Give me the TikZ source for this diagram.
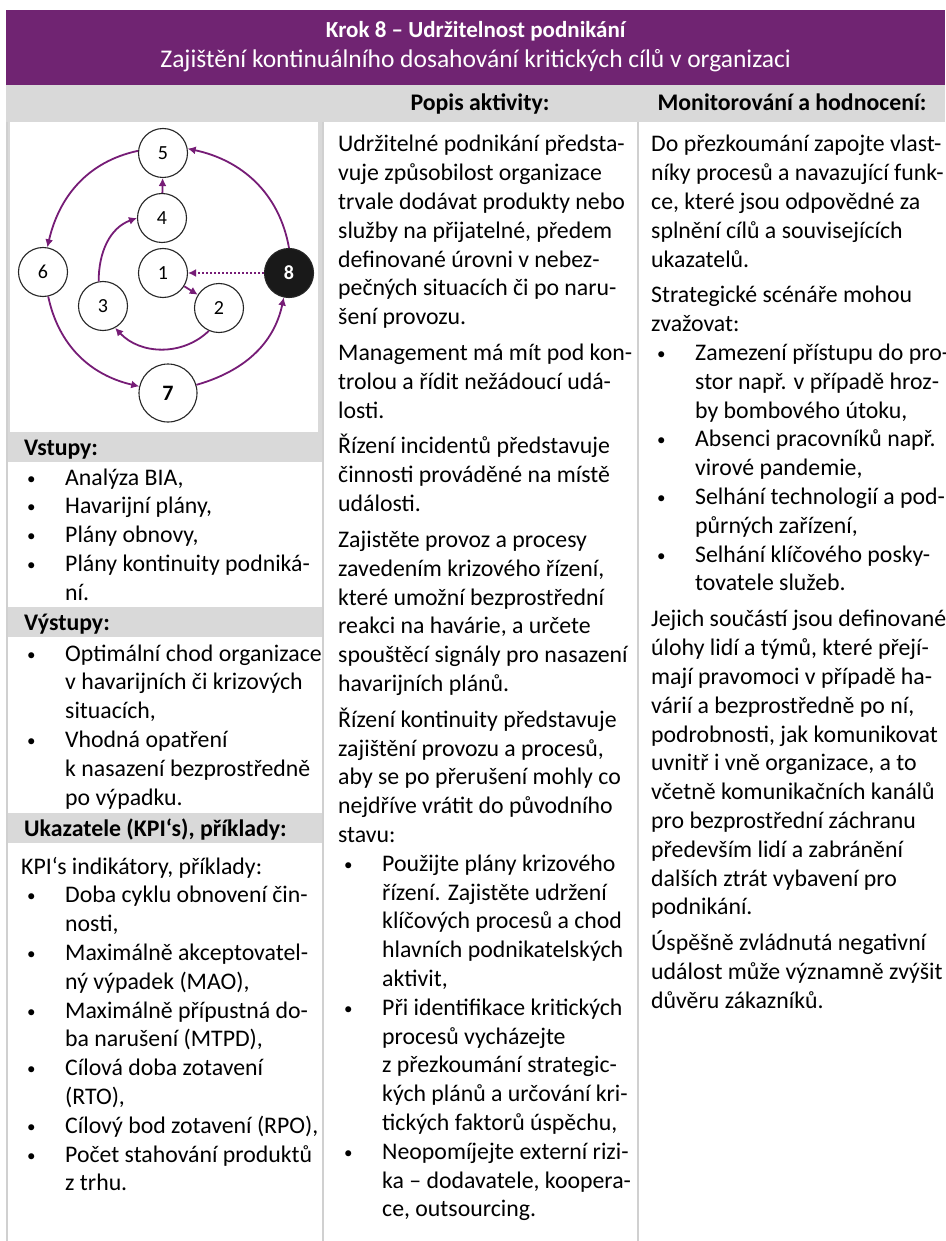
\documentclass[tikz,border=0pt]{standalone}
\usepackage{fontspec}
\setmainfont{Carlito}
\usetikzlibrary{arrows.meta,positioning}

\definecolor{krokpurple}{RGB}{112,36,114}
\definecolor{bandgray}{RGB}{217,217,217}
\definecolor{rulegray}{RGB}{208,208,208}
\definecolor{flowpurple}{RGB}{118,28,118}

\newcommand{\pgap}{7pt}
\newcommand{\bitem}{\hspace*{6pt}\makebox[38pt][l]{\raisebox{1pt}{\fontsize{17}{17}\selectfont\textbullet}}}
\newcommand{\bcont}{\hspace*{44pt}}
\newcommand{\coltext}[1]{\begin{minipage}[t]{420pt}\fontsize{23.8}{28.8}\selectfont\raggedright #1\end{minipage}}

\tikzset{
  band/.style={fill=bandgray, inner sep=0pt, anchor=north west},
  bandlabel/.style={anchor=base west, inner sep=0pt, font=\fontsize{23.8}{28}\selectfont\bfseries},
  textblock/.style={anchor=base west, inner sep=0pt},
  stepcircle/.style={circle, draw=black!85, line width=1.1pt, fill=white, minimum size=49pt, inner sep=0pt, font=\fontsize{20}{20}\selectfont},
  flow/.style={draw=flowpurple, line width=1.8pt, -{Latex[length=8pt,width=8pt]}},
}

\begin{document}
\begin{tikzpicture}[x=1pt, y=1pt]
    \useasboundingbox (0,0) rectangle (945,-1241);
    \clip (0,0) rectangle (945,-1241);

    % Header band
    \node[fill=krokpurple, minimum width=939pt, minimum height=75pt, inner sep=0pt, anchor=north west] (header) at (6,-10) {};
    \node[anchor=base, inner sep=0pt, text=white, font=\fontsize{23}{24}\selectfont\bfseries] (title) at ([yshift=-28pt]header.north) {Krok 8 – Udržitelnost podnikání};
    \node[anchor=base, inner sep=0pt, text=white, font=\fontsize{25.5}{28}\selectfont] (subtitle) at ([yshift=-58pt]header.north) {Zajištění kontinuálního dosahování kritických cílů v organizaci};

    % Column heads
    \node[band, minimum width=939pt, minimum height=37pt] (headrow) at (6,-85) {};
    \node[anchor=base, inner sep=0pt, font=\fontsize{23.8}{28}\selectfont\bfseries] (popis) at (480,-111) {Popis aktivity:};
    \node[anchor=base, inner sep=0pt, font=\fontsize{23.8}{28}\selectfont\bfseries] (monitor) at (792,-111) {Monitorování a hodnocení:};

    % Left column: picture cell and bands
    \node[band, minimum width=316pt, minimum height=310pt] (piccell) at (6,-122) {};
    \node[fill=white, inner sep=0pt, minimum width=308pt, minimum height=310pt, anchor=north west] (picbox) at (10,-122) {};
    \node[band, minimum width=316pt, minimum height=30pt] (vstband) at (6,-432) {};
    \node[bandlabel] (vstlabel) at ([xshift=18pt,yshift=-8pt]vstband.west) {Vstupy:};
    \node[band, minimum width=316pt, minimum height=30pt] (vysband) at (6,-607) {};
    \node[bandlabel] (vyslabel) at ([xshift=18pt,yshift=-8pt]vysband.west) {Výstupy:};
    \node[band, minimum width=316pt, minimum height=30pt] (kpiband) at (6,-813) {};
    \node[bandlabel] (kpilabel) at ([xshift=18pt,yshift=-8pt]kpiband.west) {Ukazatele (KPI‘s), příklady:};

    % Column rules
    \draw[rulegray, line width=2pt] (7,-122) -- (7,-1241);
    \draw[rulegray, line width=2pt] (323,-122) -- (323,-1241);
    \draw[rulegray, line width=2pt] (638,-122) -- (638,-1241);

    % Left column texts
    \node[textblock] (vstlist) at (21,-485) {\coltext{%
        \bitem Analýza BIA,\\
        \bitem Havarijní plány,\\
        \bitem Plány obnovy,\\
        \bitem Plány kontinuity podniká-\\
        \bcont ní.}};
    \node[textblock] (vyslist) at (21,-661) {\coltext{%
        \bitem Optimální chod organizace\\
        \bcont v havarijních či krizových\\
        \bcont situacích,\\
        \bitem Vhodná opatření\\
        \bcont k nasazení bezprostředně\\
        \bcont po výpadku.}};
    \node[textblock] (kpilist) at (21,-874) {\coltext{%
        KPI‘s indikátory, příklady:\\
        \bitem Doba cyklu obnovení čin-\\
        \bcont nosti,\\
        \bitem Maximálně akceptovatel-\\
        \bcont ný výpadek (MAO),\\
        \bitem Maximálně přípustná do-\\
        \bcont ba narušení (MTPD),\\
        \bitem Cílová doba zotavení\\
        \bcont (RTO),\\
        \bitem Cílový bod zotavení (RPO),\\
        \bitem Počet stahování produktů\\
        \bcont z trhu.}};

    % Middle column
    \node[textblock] (popistext) at (338,-152) {\coltext{%
        Udržitelné podnikání předsta-\\
        vuje způsobilost organizace\\
        trvale dodávat produkty nebo\\
        služby na přijatelné, předem\\
        definované úrovni v nebez-\\
        pečných situacích či po naru-\\
        šení provozu.\\[\pgap]
        Management má mít pod kon-\\
        trolou a řídit nežádoucí udá-\\
        losti.\\[\pgap]
        Řízení incidentů představuje\\
        činnosti prováděné na místě\\
        události.\\[\pgap]
        Zajistěte provoz a procesy\\
        zavedením krizového řízení,\\
        které umožní bezprostřední\\
        reakci na havárie, a určete\\
        spouštěcí signály pro nasazení\\
        havarijních plánů.\\[\pgap]
        Řízení kontinuity představuje\\
        zajištění provozu a procesů,\\
        aby se po přerušení mohly co\\
        nejdříve vrátit do původního\\
        stavu:\\
        \bitem Použijte plány krizového\\
        \bcont řízení. Zajistěte udržení\\
        \bcont klíčových procesů a chod\\
        \bcont hlavních podnikatelských\\
        \bcont aktivit,\\
        \bitem Při identifikace kritických\\
        \bcont procesů vycházejte\\
        \bcont z přezkoumání strategic-\\
        \bcont kých plánů a určování kri-\\
        \bcont tických faktorů úspěchu,\\
        \bitem Neopomíjejte externí rizi-\\
        \bcont ka – dodavatele, koopera-\\
        \bcont ce, outsourcing.}};

    % Right column
    \node[textblock] (monitortext) at (651,-152) {\coltext{%
        Do přezkoumání zapojte vlast-\\
        níky procesů a navazující funk-\\
        ce, které jsou odpovědné za\\
        splnění cílů a souvisejících\\
        ukazatelů.\\[\pgap]
        Strategické scénáře mohou\\
        zvažovat:\\
        \bitem Zamezení přístupu do pro-\\
        \bcont stor např. v případě hroz-\\
        \bcont by bombového útoku,\\
        \bitem Absenci pracovníků např.\\
        \bcont virové pandemie,\\
        \bitem Selhání technologií a pod-\\
        \bcont půrných zařízení,\\
        \bitem Selhání klíčového posky-\\
        \bcont tovatele služeb.\\[\pgap]
        Jejich součástí jsou definované\\
        úlohy lidí a týmů, které přejí-\\
        mají pravomoci v případě ha-\\
        várií a bezprostředně po ní,\\
        podrobnosti, jak komunikovat\\
        uvnitř i vně organizace, a to\\
        včetně komunikačních kanálů\\
        pro bezprostřední záchranu\\
        především lidí a zabránění\\
        dalších ztrát vybavení pro\\
        podnikání.\\[\pgap]
        Úspěšně zvládnutá negativní\\
        událost může významně zvýšit\\
        důvěru zákazníků.}};

    % Step cycle
    \node[stepcircle] (n5) at (163,-153) {5};
    \node[stepcircle] (n4) at (162,-218) {4};
    \node[stepcircle] (n1) at (163,-273) {1};
    \node[stepcircle] (n2) at (219,-308) {2};
    \node[stepcircle] (n3) at (103,-306) {3};
    \node[stepcircle] (n6) at (43,-272) {6};
    \node[stepcircle, minimum size=58pt, font=\fontsize{22}{22}\selectfont\bfseries] (n7) at (168,-393) {7};
    \node[stepcircle, fill=black!90, text=white, font=\fontsize{20}{20}\selectfont\bfseries] (n8) at (289,-273) {8};

    \draw[flow] (n8.north) to[out=100, in=-12] (n5.10);
    \draw[flow] (n5.175) to[out=192, in=77] (n6.80);
    \draw[flow] (n6.282) to[out=282, in=167] (n7.167);
    \draw[flow] (n7.16) to[out=16, in=258] (n8.258);
    \draw[flow] (n4) -- (n5);
    \draw[flow] (n3.100) to[out=90, in=200] (n4.west);
    \draw[flow] (n1) -- (n2);
    \draw[flow] (n2.246) to[out=224, in=-47] (n3.-61);
    \draw[flow, dash pattern=on 2pt off 2pt] (n8) -- (n1);
\end{tikzpicture}
\end{document}
